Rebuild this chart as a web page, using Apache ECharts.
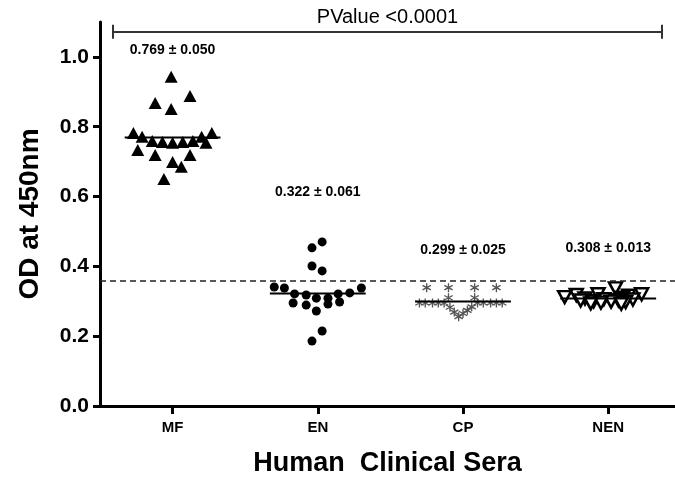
<!DOCTYPE html>
<html>
<head>
<meta charset="utf-8">
<script src="https://cdn.jsdelivr.net/npm/echarts/dist/echarts.min.js"></script>
<style>
  html, body { margin: 0; padding: 0; background: #fff; }
  #chart { width: 675px; height: 478px; }
</style>
</head>
<body>
<div id="chart"></div>
<script>
// groups on the x axis
const categories = ['MF', 'EN', 'CP', 'NEN'];

// OD readings per group, with the horizontal spread (in category units) of each point
const mfValues = [0.943, 0.868, 0.888, 0.851, 0.782, 0.771, 0.759, 0.756, 0.754, 0.756, 0.759, 0.771, 0.782, 0.754, 0.733, 0.719, 0.719, 0.699, 0.685, 0.650];
const mfSpread = [-0.01, -0.12, 0.12, -0.01, -0.27, -0.21, -0.14, -0.07, 0, 0.07, 0.14, 0.20, 0.27, 0.23, -0.24, -0.12, 0.12, 0, 0.06, -0.06];

const enValues = [0.470, 0.453, 0.401, 0.387, 0.341, 0.338, 0.338, 0.324, 0.321, 0.318, 0.321, 0.309, 0.309, 0.295, 0.289, 0.292, 0.298, 0.272, 0.215, 0.186];
const enSpread = [0.03, -0.04, -0.04, 0.03, -0.30, -0.23, 0.30, 0.22, -0.16, -0.08, 0.14, -0.01, 0.07, -0.17, -0.08, 0.07, 0.15, -0.01, 0.03, -0.04];

const cpValues = [0.339, 0.339, 0.339, 0.339, 0.310, 0.310, 0.295, 0.295, 0.295, 0.295, 0.295, 0.295, 0.295, 0.295, 0.295, 0.295, 0.283, 0.269, 0.256, 0.265, 0.274, 0.284];
const cpSpread = [-0.25, -0.10, 0.08, 0.23, -0.10, 0.08, -0.30, -0.26, -0.21, -0.17, -0.13, 0.10, 0.14, 0.19, 0.23, 0.27, -0.09, -0.06, -0.03, 0.00, 0.03, 0.06];

const nenValues = [0.337, 0.320, 0.320, 0.318, 0.316, 0.312, 0.310, 0.308, 0.306, 0.305, 0.303, 0.302, 0.300, 0.299, 0.298, 0.296, 0.294, 0.293];
const nenSpread = [0.05, -0.07, 0.23, -0.22, 0.14, -0.30, 0.10, -0.16, -0.03, 0.17, 0.07, -0.19, -0.10, 0.02, 0.12, -0.05, -0.12, 0.09];

// mean ± SD per group and the height where its text sits
const means = [0.769, 0.322, 0.299, 0.308];
const sds = [0.050, 0.061, 0.025, 0.013];
const statLabelY = [1.02, 0.613, 0.447, 0.453];

const cutoff = 0.356;
const yTicks = [0, 0.2, 0.4, 0.6, 0.8, 1.0];
const pText = 'PValue <0.0001';
const pBracket = { from: -0.41, to: 3.37, y: 1.072, cap: 0.02 };

const FONT = 'Arial, "Liberation Sans", sans-serif';

// asterisk made of three bars (all same winding so the fill stays solid)
function asteriskPath() {
  let d = '';
  [0, Math.PI / 3, -Math.PI / 3].forEach(a => {
    const c = Math.cos(a), s = Math.sin(a);
    const pts = [[-7, -50], [7, -50], [7, 50], [-7, 50]].map(p => [p[0] * c - p[1] * s, p[0] * s + p[1] * c]);
    d += 'M' + pts.map(p => p[0].toFixed(2) + ' ' + p[1].toFixed(2)).join(' L') + ' Z ';
  });
  return 'path://' + d;
}

function points(values, spread, g) {
  return values.map((v, i) => [g + spread[i], v]);
}

const meanLines = means.map((m, g) => ({
  type: 'line',
  data: [[g - 0.33, m], [g + 0.33, m]],
  showSymbol: false,
  symbol: 'none',
  silent: true,
  z: 5,
  lineStyle: { color: '#000', width: 2 }
}));

let myChart = echarts.init(document.getElementById('chart'));

myChart.setOption({
  animation: false,
  backgroundColor: '#fff',
  grid: {
    left: 100,
    right: 0,
    top: 22,
    bottom: 72,
    containLabel: false,
    outerBoundsMode: 'none'
  },
  xAxis: {
    type: 'value',
    min: -0.5,
    max: 3.46,
    splitLine: { show: false },
    axisLine: { show: true, onZero: false, lineStyle: { color: '#000', width: 3 } },
    axisTick: {
      show: true,
      inside: false,
      length: 8,
      customValues: [0, 1, 2, 3],
      lineStyle: { color: '#000', width: 3 }
    },
    axisLabel: {
      customValues: [0, 1, 2, 3],
      formatter: v => categories[Math.round(v)],
      margin: 14,
      color: '#000',
      fontFamily: FONT,
      fontWeight: 'bold',
      fontSize: 15
    },
    name: 'Human  Clinical Sera',
    nameLocation: 'middle',
    nameGap: 44,
    nameTextStyle: {
      color: '#000',
      fontFamily: FONT,
      fontWeight: 'bold',
      fontSize: 27
    }
  },
  yAxis: {
    type: 'value',
    min: 0,
    max: 1.1,
    splitLine: { show: false },
    axisLine: { show: true, onZero: false, lineStyle: { color: '#000', width: 3 } },
    axisTick: {
      show: true,
      inside: false,
      length: 7,
      customValues: yTicks,
      lineStyle: { color: '#000', width: 3 }
    },
    axisLabel: {
      customValues: yTicks,
      formatter: v => v.toFixed(1),
      margin: 11,
      color: '#000',
      fontFamily: FONT,
      fontWeight: 'bold',
      fontSize: 21
    },
    name: 'OD at 450nm',
    nameLocation: 'middle',
    nameGap: 56,
    nameTextStyle: {
      color: '#000',
      fontFamily: FONT,
      fontWeight: 'bold',
      fontSize: 28
    }
  },
  series: [
    {
      name: categories[0],
      type: 'scatter',
      symbol: 'triangle',
      symbolSize: [13, 12],
      itemStyle: { color: '#000', opacity: 1 },
      data: points(mfValues, mfSpread, 0),
      markLine: {
        silent: true,
        symbol: 'none',
        lineStyle: { color: '#222', width: 1.5, type: [6, 4] },
        label: { show: false },
        data: [{ yAxis: cutoff }]
      }
    },
    {
      name: categories[1],
      type: 'scatter',
      symbol: 'circle',
      symbolSize: 9,
      itemStyle: { color: '#000', opacity: 1 },
      data: points(enValues, enSpread, 1)
    },
    {
      name: categories[2],
      type: 'scatter',
      symbol: asteriskPath(),
      symbolSize: 9,
      itemStyle: { color: '#555', opacity: 1 },
      data: points(cpValues, cpSpread, 2)
    },
    {
      name: categories[3],
      type: 'scatter',
      symbol: 'triangle',
      symbolRotate: 180,
      symbolSize: [13, 12],
      itemStyle: { color: '#fff', borderColor: '#000', borderWidth: 2.5, opacity: 1 },
      data: points(nenValues, nenSpread, 3)
    },
    ...meanLines,
    {
      // mean ± SD texts
      type: 'scatter',
      symbolSize: 0,
      silent: true,
      itemStyle: { opacity: 1 },
      data: means.map((m, g) => [g, statLabelY[g], m, sds[g]]),
      label: {
        show: true,
        position: 'inside',
        color: '#000',
        opacity: 1,
        fontFamily: FONT,
        fontWeight: 'bold',
        fontSize: 14,
        formatter: p => p.value[2].toFixed(3) + ' \u00b1 ' + p.value[3].toFixed(3)
      }
    },
    {
      // P value bracket
      type: 'line',
      data: [],
      markLine: {
        silent: true,
        symbol: 'none',
        lineStyle: { color: '#333', width: 2, type: 'solid' },
        label: { show: false },
        data: [
          [
            {
              coord: [pBracket.from, pBracket.y],
              label: {
                show: true,
                position: 'middle',
                formatter: pText,
                color: '#000',
                fontFamily: FONT,
                fontSize: 20,
                distance: 4
              }
            },
            { coord: [pBracket.to, pBracket.y] }
          ],
          [{ coord: [pBracket.from, pBracket.y - pBracket.cap] }, { coord: [pBracket.from, pBracket.y + pBracket.cap] }],
          [{ coord: [pBracket.to, pBracket.y - pBracket.cap] }, { coord: [pBracket.to, pBracket.y + pBracket.cap] }]
        ]
      }
    }
  ]
});
</script>
</body>
</html>
